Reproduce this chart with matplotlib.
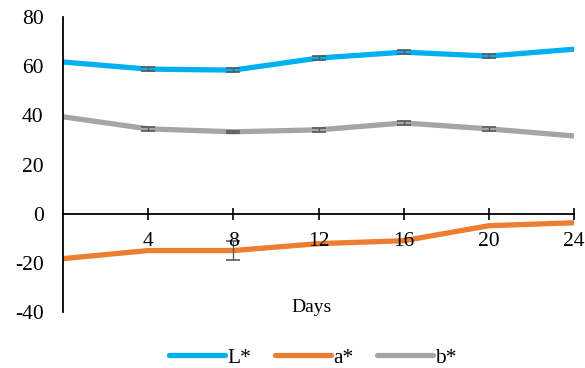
import matplotlib
matplotlib.use("Agg")
import matplotlib.pyplot as plt

days = [0, 4, 8, 12, 16, 20, 24]
L_star = [61.7, 58.8, 58.4, 63.3, 65.7, 64.1, 66.9]
a_star = [-18.3, -15.0, -15.0, -12.2, -11.0, -4.9, -3.7]
b_star = [39.4, 34.5, 33.3, 34.1, 36.9, 34.5, 31.6]
L_err = [0.0, 0.9, 0.9, 0.8, 0.8, 0.9, 0.0]
a_err = [0.0, 0.0, 3.8, 0.0, 0.0, 0.0, 0.0]
b_err = [0.0, 0.8, 0.5, 0.8, 0.9, 0.8, 0.0]
x_ticks = [4, 8, 12, 16, 20, 24]
y_ticks = [-40, -20, 0, 20, 40, 60, 80]

plt.rcParams["font.family"] = ["Liberation Serif", "DejaVu Serif"]

fig = plt.figure(figsize=(5.85, 3.68), dpi=100)
ax = fig.add_axes([63 / 585, (368 - 312) / 368, 511 / 585, 295 / 368])

series = [
    ("L*", L_star, L_err, "#00B0F0"),
    ("a*", a_star, a_err, "#ED7D31"),
    ("b*", b_star, b_err, "#A5A5A5"),
]
for name, vals, errs, col in series:
    ax.plot(days, vals, color=col, lw=3.8, solid_capstyle="round", label=name, zorder=2)
    idx = [i for i, e in enumerate(errs) if e > 0]
    ax.errorbar([days[i] for i in idx], [vals[i] for i in idx], yerr=[errs[i] for i in idx],
                fmt="none", ecolor="#5a5a5a", elinewidth=1.0,
                capsize=5, capthick=1.2, zorder=2.2)

ax.set_xlim(0, 24)
ax.set_ylim(-40, 80)
ax.set_axisbelow(False)
ax.spines["top"].set_visible(False)
ax.spines["right"].set_visible(False)
ax.spines["bottom"].set_position(("data", 0))
ax.spines["left"].set_linewidth(1.3)
ax.spines["bottom"].set_linewidth(1.3)

ax.set_xticks(x_ticks)
ax.set_xticklabels([str(t) for t in x_ticks], fontsize=15.5)
ax.tick_params(axis="x", direction="inout", length=9, width=1.2, pad=9)
ax.set_yticks(y_ticks)
ax.set_yticklabels([str(t) for t in y_ticks], fontsize=15.5)
ax.tick_params(axis="y", length=0, pad=14)

ax.text(0.487, -0.015, "Days", transform=ax.transAxes, ha="center", va="bottom", fontsize=14)

fig.legend(loc="center", bbox_to_anchor=(0.535, 0.028), ncol=3, frameon=False,
           fontsize=15.5, handlelength=2.6, handletextpad=0.1, columnspacing=1.1)

fig.savefig("out.png", dpi=100)
